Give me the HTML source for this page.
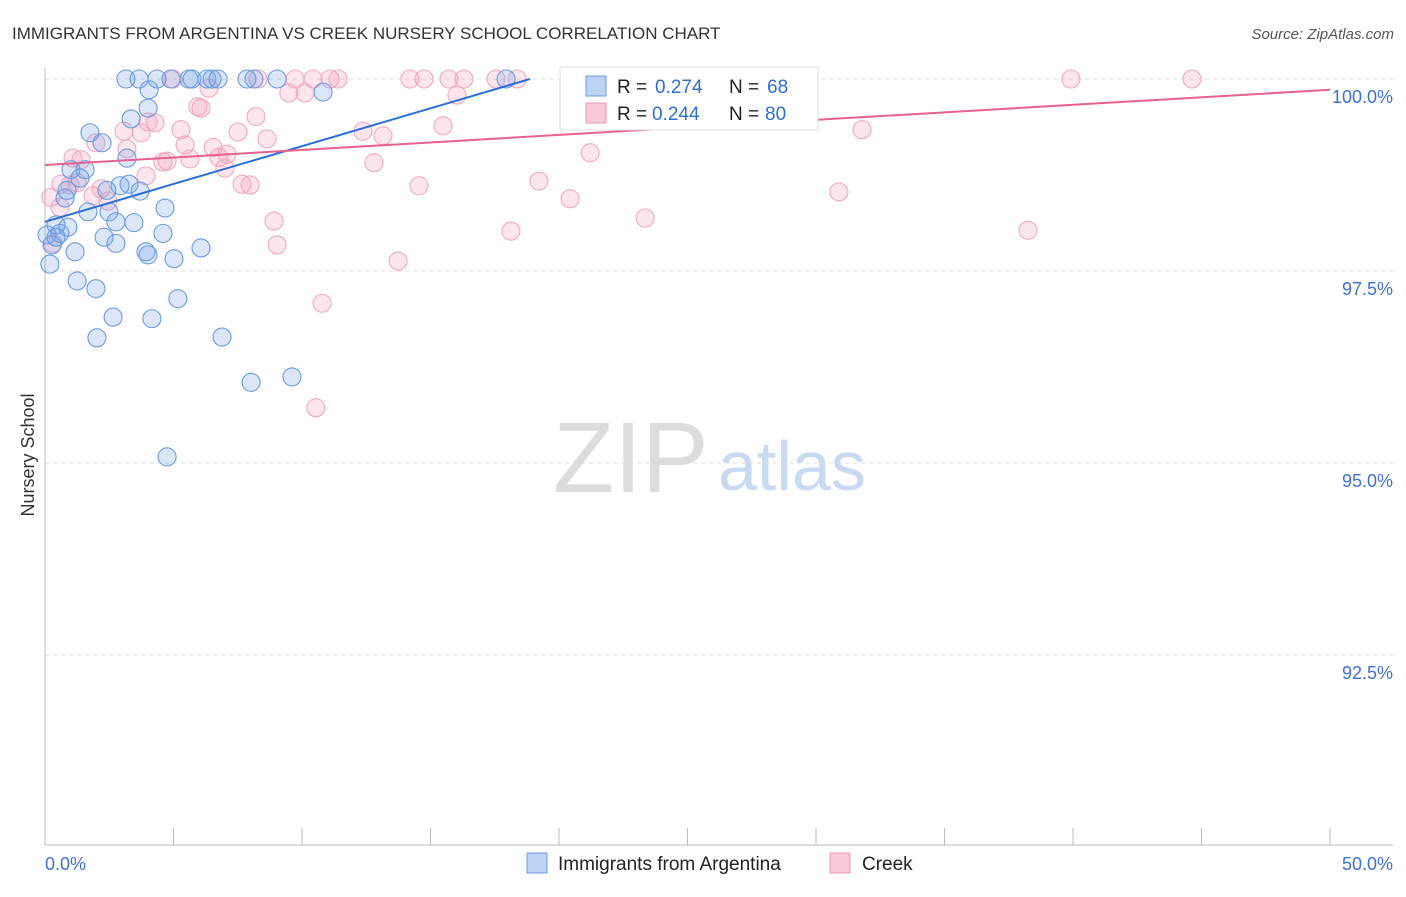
<!DOCTYPE html>
<html><head><meta charset="utf-8"><style>
body{margin:0;background:#fff;font-family:"Liberation Sans",sans-serif}
svg text{font-family:"Liberation Sans",sans-serif}
</style></head><body>
<svg id="c" width="1406" height="892">
<text x="12" y="39" font-size="17" fill="#333">IMMIGRANTS FROM ARGENTINA VS CREEK NURSERY SCHOOL CORRELATION CHART</text>
<text x="1394" y="39" font-size="15" fill="#555" text-anchor="end" font-style="italic">Source: ZipAtlas.com</text>
<text x="34" y="455" font-size="18" fill="#333" text-anchor="middle" transform="rotate(-90 34 455)">Nursery School</text>
<g><text x="553" y="492" font-size="100" fill="#dcdcdc" font-family="Liberation Serif,serif">ZIP</text><text x="718" y="490" font-size="70" fill="#c8daf2">atlas</text></g>
<g id="grid"></g><g id="marks"></g>
<g>
<rect x="560" y="67" width="258" height="63" fill="#fff" stroke="#ddd"/>
<rect x="586" y="76" width="20" height="20" fill="#bcd3f5" stroke="#6e9ee0"/>
<rect x="586" y="103" width="20" height="20" fill="#f9c9d8" stroke="#ec9ab5"/>
<text x="617" y="93" font-size="19" fill="#222">R = </text><text x="655" y="93" font-size="19" fill="#2f6fd0">0.274</text>
<text x="729" y="93" font-size="19" fill="#222">N = </text><text x="767" y="93" font-size="19" fill="#2f6fd0">68</text>
<text x="617" y="120" font-size="19" fill="#222">R = </text><text x="652" y="120" font-size="19" fill="#2f6fd0">0.244</text>
<text x="729" y="120" font-size="19" fill="#222">N = </text><text x="765" y="120" font-size="19" fill="#2f6fd0">80</text>
</g>
<g>
<rect x="527" y="853" width="20" height="20" fill="#bcd3f5" stroke="#6e9ee0"/>
<text x="558" y="870" font-size="19" fill="#222">Immigrants from Argentina</text>
<rect x="830" y="853" width="20" height="20" fill="#f9c9d8" stroke="#ec9ab5"/>
<text x="862" y="870" font-size="19" fill="#222">Creek</text>
</g>
</svg>
<script>
const yTicks=[92.5,95,97.5,100];
const yTickLabels=["92.5%","95.0%","97.5%","100.0%"];
const xTickVals=[0,5,10,15,20,25,30,35,40,45,50];
const blueX=[3.15,3.66,4.36,4.90,5.60,5.72,6.30,6.50,6.73,7.86,8.13,9.03,17.94,10.82,4.05,4.01,3.35,1.75,2.22,3.19,1.01,1.56,1.36,0.86,0.78,2.92,3.27,2.41,3.70,2.49,1.67,4.67,0.43,0.89,0.58,3.46,0.08,2.30,2.76,4.59,3.93,4.01,5.02,6.07,1.17,0.19,1.25,1.98,5.17,2.65,4.16,2.02,6.89,8.02,9.61,4.75,0.27,2.76,0.43];
const blueY=[100,100,100,100,100,100,100,100,100,100,100,100,100,99.83,99.86,99.62,99.48,99.30,99.17,98.97,98.82,98.82,98.71,98.55,98.45,98.61,98.63,98.55,98.54,98.27,98.27,98.32,98.10,98.07,97.99,98.13,97.97,97.94,97.86,97.99,97.75,97.71,97.66,97.80,97.75,97.59,97.37,97.27,97.14,96.90,96.88,96.63,96.64,96.05,96.12,95.08,97.84,98.14,97.94];
const pinkX=[0.23,0.58,0.97,1.40,1.25,1.87,2.18,2.45,1.98,3.07,3.19,3.74,3.93,4.28,4.59,4.75,5.29,5.45,5.64,5.95,6.07,6.38,6.54,6.77,7.08,7.00,7.51,7.67,7.98,8.21,8.64,8.91,9.03,8.29,9.73,9.49,10.12,10.43,11.09,11.40,10.78,10.54,12.37,12.80,13.15,13.74,14.20,14.75,14.55,15.49,15.72,16.03,16.30,17.55,18.13,18.37,19.22,20.43,21.21,23.35,21.83,22.88,23.85,25.21,30.89,31.79,38.25,39.92,44.63,4.98,0.62,1.09,0.31,4.01];
const pinkY=[98.46,98.33,98.62,98.95,98.65,98.48,98.57,98.41,99.17,99.32,99.09,99.30,98.74,99.43,98.92,98.93,99.34,99.14,98.96,99.64,99.62,99.88,99.11,98.98,99.02,98.84,99.31,98.63,98.62,99.51,99.22,98.15,97.84,100,100,99.82,99.82,100,100,100,97.08,95.72,99.32,98.91,99.26,97.63,100,100,98.61,99.39,100,99.79,100,100,98.02,100,98.67,98.44,99.04,98.19,100,100,100,100,98.53,99.34,98.03,100,100,100,98.63,98.97,97.86,99.44];
const blueTrend=[[0,98.14],[18.87,100]];
const pinkTrend=[[0,98.88],[50,99.86]];
const X=v=>45+v/50*1285, Y=v=>79+(100-v)*76.8;
const NS="http://www.w3.org/2000/svg";
function mk(t,a,p){const e=document.createElementNS(NS,t);for(const k in a)e.setAttribute(k,a[k]);p.appendChild(e);return e;}
const g=document.getElementById('grid'),m=document.getElementById('marks');
yTicks.forEach((v,i)=>{
 const l=mk('line',{x1:45,x2:1393,y1:Y(v),y2:Y(v),stroke:'#ddd','stroke-dasharray':'4,4'},g);
 
 
 const t=mk('text',{x:1393,y:Y(v)+24,'font-size':18,fill:'#3d72d1','text-anchor':'end'},g);t.textContent=yTickLabels[i];
 
 
});
const ax=mk('line',{x1:45,x2:45,y1:68,y2:845,stroke:'#bbb'},g);


const bx=mk('line',{x1:45,x2:1393,y1:845,y2:845,stroke:'#bbb'},g);


xTickVals.forEach(v=>{const t=mk('line',{x1:X(v),x2:X(v),y1:828,y2:845,stroke:'#bbb'},g);
 
 });
const x0=mk('text',{x:45,y:870,'font-size':18,fill:'#3d72d1'},g);x0.textContent='0.0%';


const x1=mk('text',{x:1393,y:870,'font-size':18,fill:'#3d72d1','text-anchor':'end'},g);x1.textContent='50.0%';


pinkX.forEach((v,i)=>{const c=mk('circle',{cx:X(v),cy:Y(pinkY[i]),r:9,fill:'rgba(244,150,180,0.25)',stroke:'#f0a8c0','stroke-width':1.1},m);
 
 });
blueX.forEach((v,i)=>{const c=mk('circle',{cx:X(v),cy:Y(blueY[i]),r:9,fill:'rgba(110,160,230,0.25)',stroke:'#6a9be0','stroke-width':1.1},m);
 
 });
const bl=mk('line',{x1:X(blueTrend[0][0]),y1:Y(blueTrend[0][1]),x2:X(blueTrend[1][0]),y2:Y(blueTrend[1][1]),stroke:'#2a6fd6','stroke-width':2},m);


const pl=mk('line',{x1:X(pinkTrend[0][0]),y1:Y(pinkTrend[0][1]),x2:X(pinkTrend[1][0]),y2:Y(pinkTrend[1][1]),stroke:'#e8608e','stroke-width':2},m);


</script>
</body></html>
